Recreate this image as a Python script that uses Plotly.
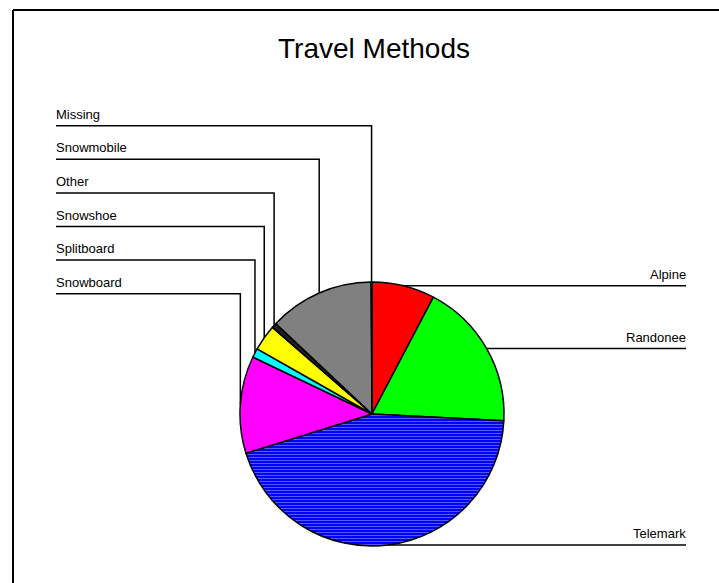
import math
import plotly.graph_objects as go

# Travel method shares (percent of respondents), clockwise from 12 o'clock
methods = ["Alpine", "Randonee", "Telemark", "Snowboard", "Splitboard",
           "Snowshoe", "Other", "Snowmobile", "Missing"]
percent = [7.7, 18.1, 44.4, 11.9, 1.1, 3.2, 0.6, 12.9, 0.1]
colors = ["#FF0000", "#00FF00", "#0000FF", "#FF00FF", "#00FFFF",
          "#FFFF00", "#202020", "#808080", "#808080"]

W, H = 719, 583
CX, CY, R = 372, 414, 132          # pie centre and radius in pixels
LEFT_X, RIGHT_X = 56, 686          # label column edges
LEFT_TOP, LEFT_STEP = 125.7, 33.6  # first left leader row and spacing
FONT = "Liberation Sans, Arial, sans-serif"


def px(x):
    return x / W


def py(y):
    return 1 - y / H


fig = go.Figure(go.Pie(
    labels=methods,
    values=percent,
    sort=False,
    direction="clockwise",
    rotation=0,
    marker=dict(
        colors=colors,
        line=dict(color="black", width=1.5),
        pattern=dict(shape=["", "", "-", "", "", "", "", "", ""],
                     bgcolor=colors, fgcolor="#6060ff", size=3, solidity=0.3,
                     fillmode="replace"),
    ),
    textinfo="none",
    hoverinfo="label+percent",
    showlegend=False,
    domain=dict(x=[px(CX - R), px(CX + R)], y=[py(CY + R), py(CY - R)]),
))

# slice mid-angles (degrees clockwise from 12 o'clock)
total = sum(percent)
mids = []
cum = 0.0
for v in percent:
    mids.append((cum + v / 2) / total * 360)
    cum += v

label_font = dict(family=FONT, size=13, color="black")
shapes = []
annotations = []
left = sorted([i for i, m in enumerate(mids) if m >= 180], key=lambda i: -mids[i])
for i, m in enumerate(mids):
    a = math.radians(m)
    ex = CX + R * math.sin(a)
    ey = CY - R * math.cos(a)
    if m < 180:
        path = f"M {px(ex)},{py(ey)} L {px(RIGHT_X)},{py(ey)}"
        annotations.append(dict(x=px(RIGHT_X + 2), y=py(ey - 2), xref="paper", yref="paper",
                                text=methods[i], showarrow=False, xanchor="right",
                                yanchor="bottom", font=label_font))
    else:
        j = left.index(i)
        ly = LEFT_TOP + j * LEFT_STEP
        path = (f"M {px(ex)},{py(ey)} L {px(ex)},{py(ly)} L {px(LEFT_X)},{py(ly)}")
        annotations.append(dict(x=px(LEFT_X - 2), y=py(ly - 2), xref="paper", yref="paper",
                                text=methods[i], showarrow=False, xanchor="left",
                                yanchor="bottom", font=label_font))
    shapes.append(dict(type="path", path=path, xref="paper", yref="paper",
                       line=dict(color="black", width=1.5)))

# outer frame (top and left edges)
shapes.append(dict(type="line", xref="paper", yref="paper", x0=px(13), y0=py(10),
                   x1=1, y1=py(10), line=dict(color="black", width=2)))
shapes.append(dict(type="line", xref="paper", yref="paper", x0=px(13), y0=py(10),
                   x1=px(13), y1=0, line=dict(color="black", width=2)))

fig.update_layout(
    width=W, height=H,
    margin=dict(l=0, r=0, t=0, b=0),
    paper_bgcolor="white",
    plot_bgcolor="white",
    title=dict(text="Travel Methods", x=px(374), y=py(48), xanchor="center",
               yanchor="middle", font=dict(family=FONT, size=28, color="black")),
    shapes=shapes,
    annotations=annotations,
)

fig.write_html("out.html")
